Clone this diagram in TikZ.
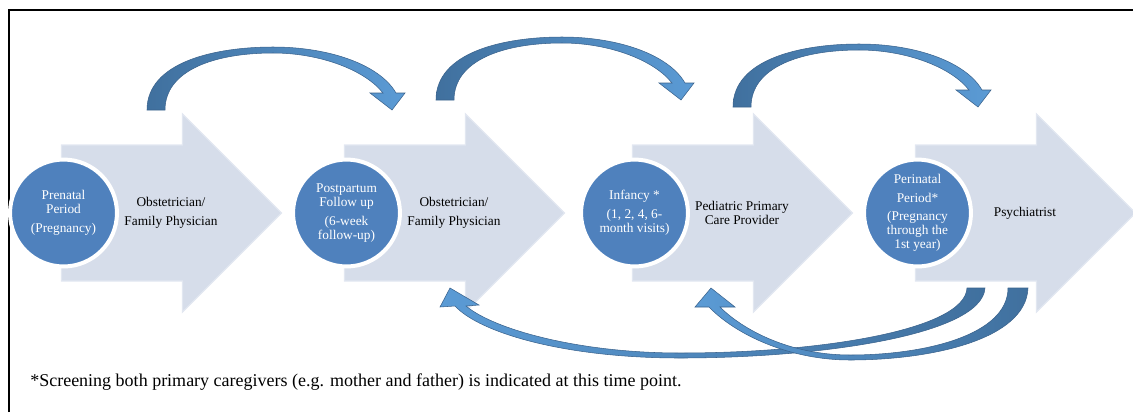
\documentclass[tikz,border=0pt]{standalone}
\usepackage{fontspec}
\setmainfont{Liberation Serif}
\usetikzlibrary{positioning}

\definecolor{stageblue}{RGB}{79,129,189}
\definecolor{bandfill}{RGB}{214,221,234}
\definecolor{bandedge}{RGB}{226,231,241}
\definecolor{loopdark}{RGB}{64,112,158}
\definecolor{looplight}{RGB}{91,155,213}
\definecolor{loopedge}{RGB}{58,98,140}

\begin{document}
\begin{tikzpicture}[x=0.75pt,y=-0.75pt,
  stage/.style={circle,fill=stageblue,draw=white,line width=3pt,minimum size=80.2pt,
    inner sep=0pt,text=white,align=center,font=\fontsize{10}{10.5}\selectfont},
  provider/.style={align=center,inner sep=0pt,font=\fontsize{10}{10.5}\selectfont},
  band/.style={fill=bandfill,draw=bandedge,line width=1pt},
  loopband/.style={draw=loopedge,line width=0.4pt}]
\useasboundingbox (0,0) rectangle (1133,412);
\draw[line width=1.6pt] (9,412) -- (9,10) -- (1133,10);

\coordinate (s1) at (63.5,213);
\coordinate (s2) at (346.5,213);
\coordinate (s3) at (634.5,213);
\coordinate (s4) at (917.5,213);

% block arrows behind the stages
\foreach \s in {s1,s2,s3,s4}
  \draw[band,shift={(\s)}] (-2,-68) -- ++(121,0) -- ++(0,-31) -- ++(99,99)
    -- ++(-99,99) -- ++(0,-31) -- ++(-121,0) -- cycle;

\node[stage] (p1) at (s1) {Prenatal\\Period\\[3.5pt](Pregnancy)};
\node[stage] (p2) at (s2) {Postpartum\\Follow up\\[3.5pt](6-week\\follow-up)};
\node[stage] (p3) at (s3) {Infancy *\\[3.5pt](1, 2, 4, 6-\\month visits)};
\node[stage] (p4) at (s4) {Perinatal\\[3.5pt]Period*\\[3.5pt](Pregnancy\\through the\\1st year)};

\node[provider] (pr1) at ([xshift=80.6pt]s1) {Obstetrician/\\[3.5pt]Family Physician};
\node[provider] (pr2) at ([xshift=80.6pt]s2) {Obstetrician/\\[3.5pt]Family Physician};
\node[provider] (pr3) at ([xshift=80.6pt]s3) {Pediatric Primary\\Care Provider};
\node[provider] (pr4) at ([xshift=80.6pt]s4) {Psychiatrist};

% loops over the top
\coordinate (ta) at (147,110);
\coordinate (tb) at (436,100);
\coordinate (tc) at (733,107);
\foreach \t in {ta,tb,tc}
  \draw[loopband,left color=loopdark,right color=looplight,shift={(\t)}]
    (0,0) .. controls (0,-48) and (68,-63) .. (126,-63)
    .. controls (183,-63) and (233,-45) .. (249,-17)
    -- (258,-17) -- (245,0) -- (223,-17) -- (236,-17)
    .. controls (218,-40) and (173,-57) .. (126,-57)
    .. controls (68,-57) and (18,-40) .. (18,0) -- cycle;

% loops back underneath
\coordinate (td) at (985,288);
\coordinate (te) at (1028,288);
\draw[loopband,left color=looplight,right color=loopdark,shift={(td)}]
  (0,0) .. controls (-3,47) and (-165,70) .. (-305,70)
  .. controls (-420,70) and (-505,45) .. (-530,18)
  -- (-545,19) -- (-535,0) -- (-506,17) -- (-519,18)
  .. controls (-490,42) and (-405,65) .. (-305,65)
  .. controls (-165,65) and (-20,42) .. (-18,0) -- cycle;
\draw[loopband,left color=looplight,right color=loopdark,shift={(te)}]
  (0,0) .. controls (-2,52) and (-98,72) .. (-178,72)
  .. controls (-238,72) and (-292,47) .. (-319,19)
  -- (-333,19) -- (-317,0) -- (-293,19) -- (-308,19)
  .. controls (-285,42) and (-238,67) .. (-178,67)
  .. controls (-103,67) and (-20,47) .. (-20,0) -- cycle;

\node[anchor=base west,inner sep=0pt,font=\fontsize{13.5}{16}\selectfont] (note) at (30,386)
  {*Screening both primary caregivers (e.g. mother and father) is indicated at this time point.};
\end{tikzpicture}
\end{document}
